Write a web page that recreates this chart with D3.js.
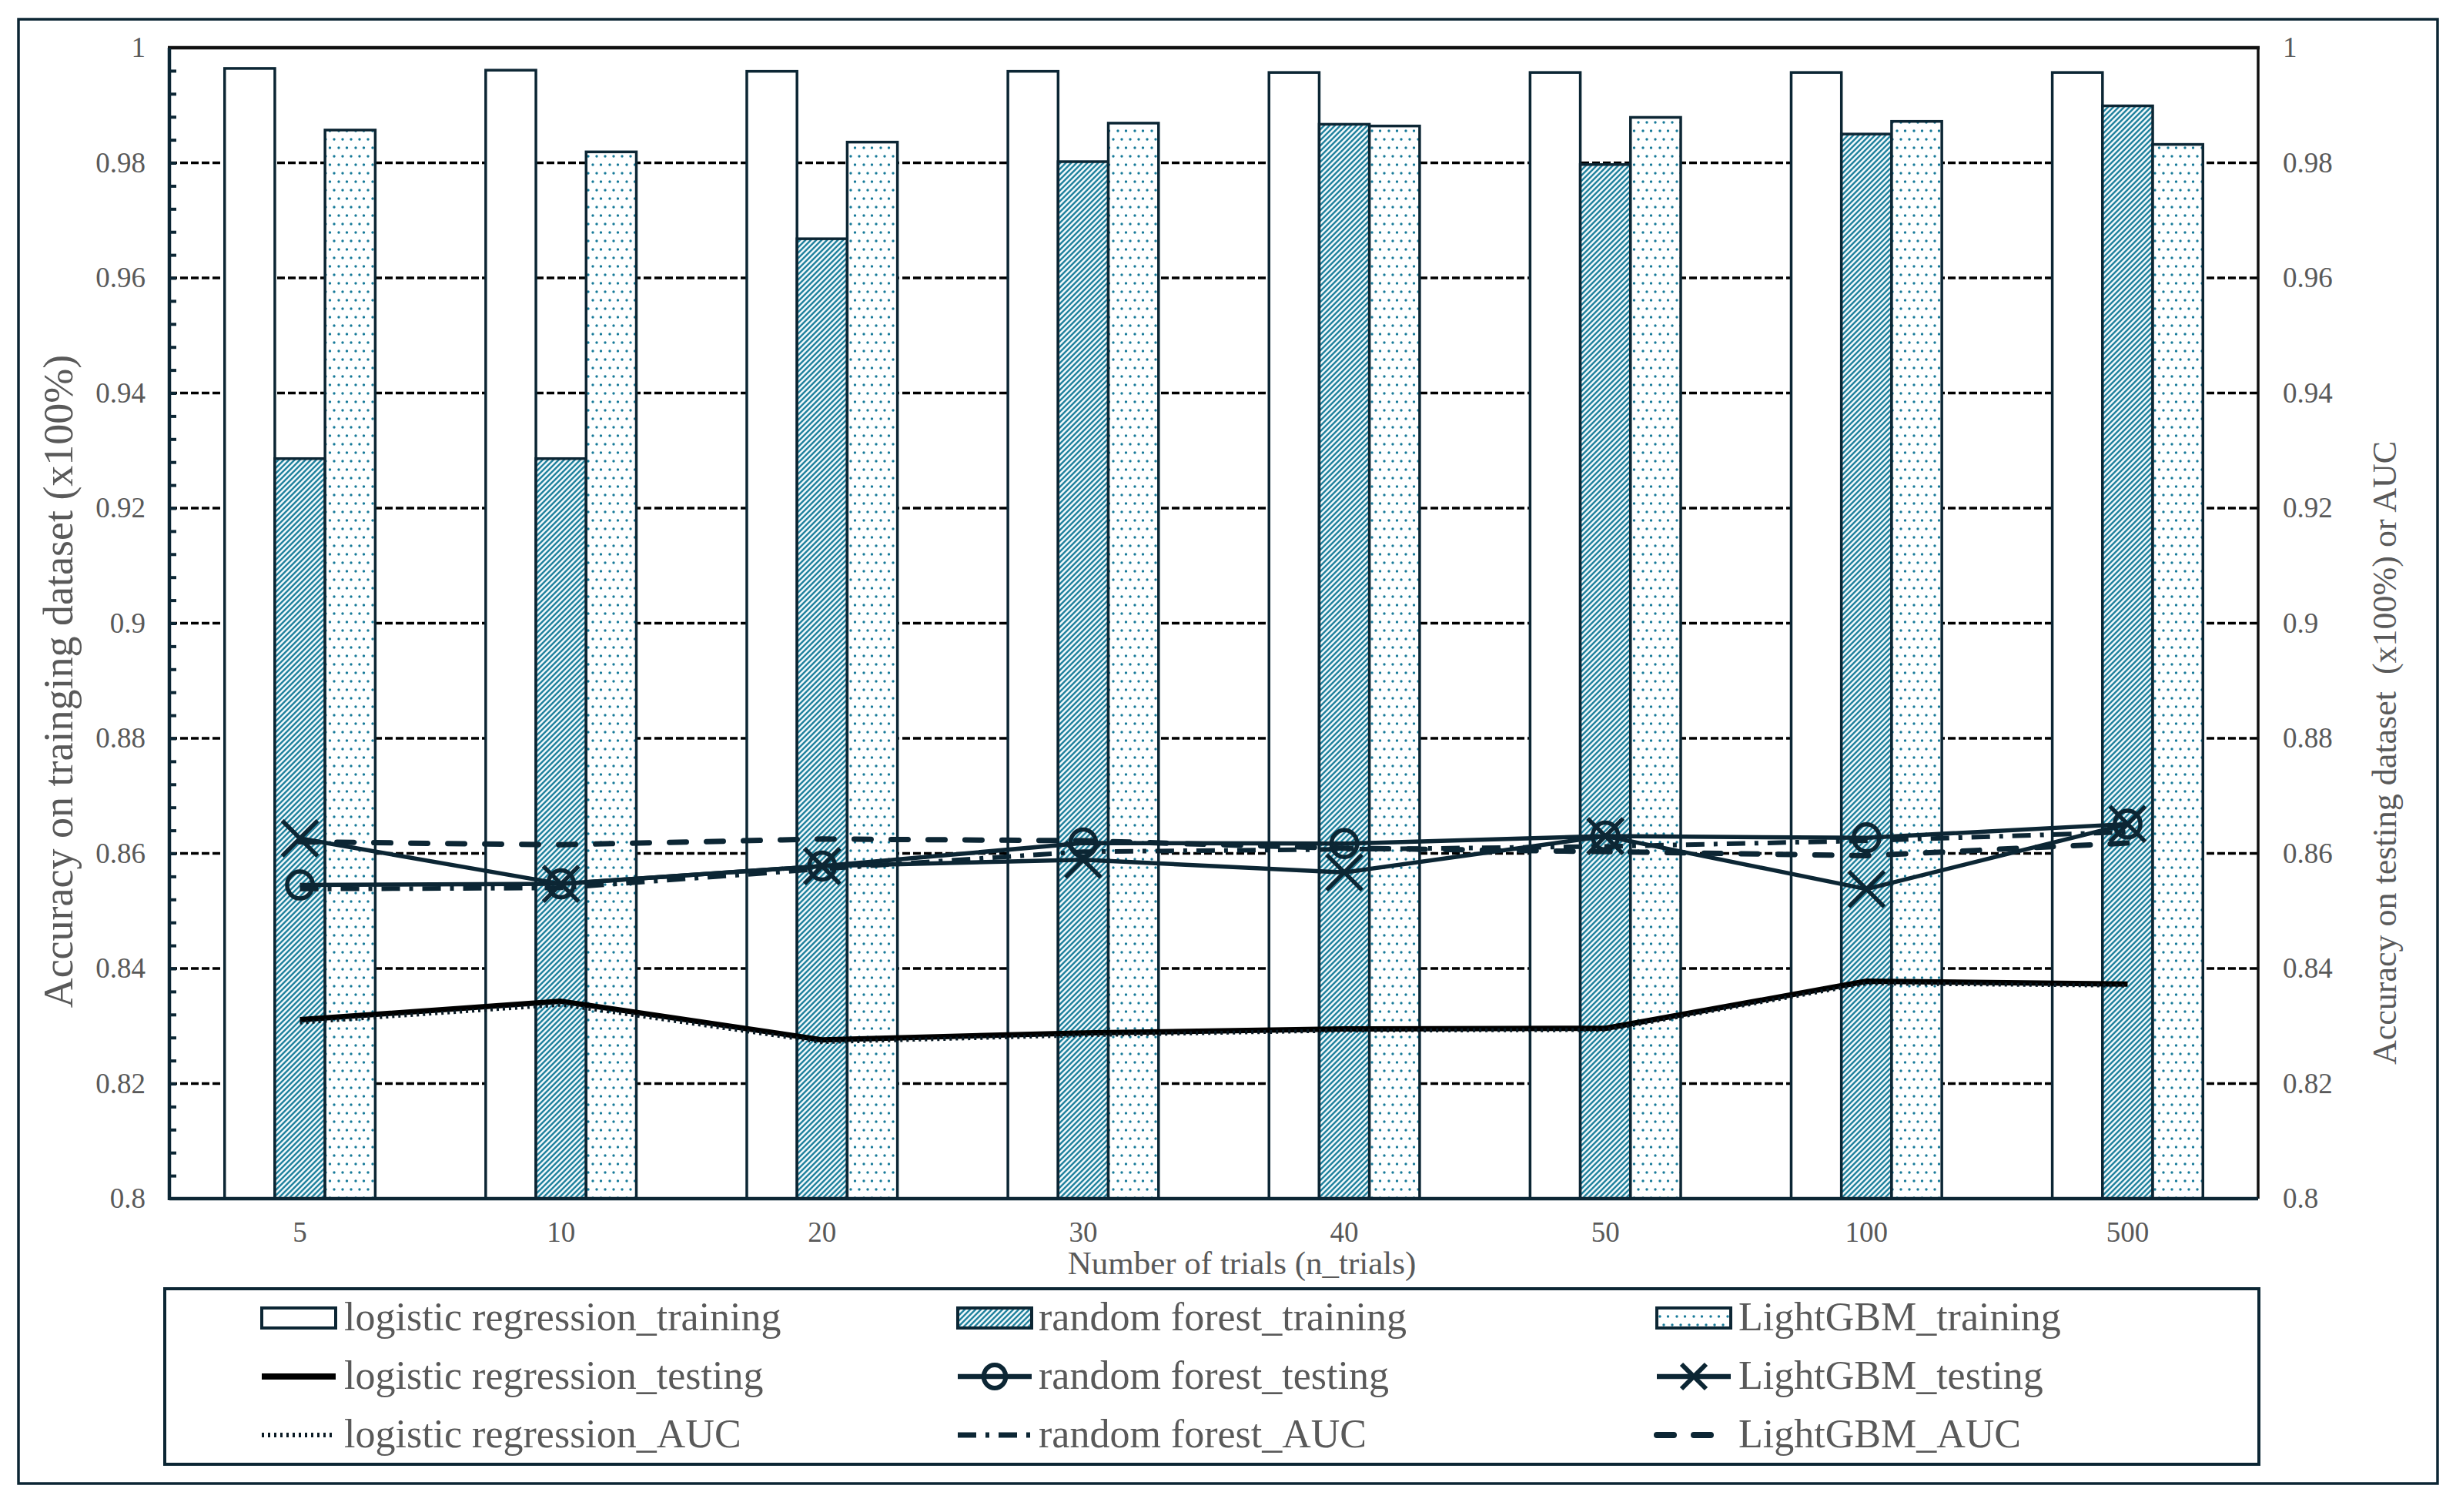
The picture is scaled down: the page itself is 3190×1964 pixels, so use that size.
<!DOCTYPE html>
<html>
<head>
<meta charset="utf-8">
<script src="https://cdn.jsdelivr.net/npm/d3@7"></script>
<style>
  body { margin: 0; background: #fff; }
  text { font-family: "Liberation Serif", "Times New Roman", serif; fill: #595959; }
</style>
</head>
<body>
<div id="chart"></div>
<script>
// bars (left axis) and lines (right axis)
var categories = ["5", "10", "20", "30", "40", "50", "100", "500"];
var lrTraining = [0.9964, 0.9961, 0.9959, 0.9959, 0.9957, 0.9957, 0.9957, 0.9957];
var rfTraining = [0.9286, 0.9286, 0.9668, 0.9802, 0.9867, 0.9797, 0.9850, 0.9899];
var lgbmTraining = [0.9857, 0.9819, 0.9836, 0.9869, 0.9864, 0.9879, 0.9872, 0.9832];
var lrTesting = [0.8311, 0.8343, 0.8276, 0.8288, 0.8295, 0.8296, 0.8378, 0.8373];
var lrAUC = [0.8306, 0.8337, 0.8272, 0.8284, 0.8292, 0.8293, 0.8374, 0.8370];
var rfTesting = [0.8545, 0.8547, 0.8578, 0.8618, 0.8617, 0.8630, 0.8627, 0.8651];
var rfAUC = [0.8538, 0.8540, 0.8573, 0.8603, 0.8607, 0.8612, 0.8622, 0.8637];
var lgbmTesting = [0.8626, 0.8547, 0.8578, 0.8589, 0.8567, 0.8630, 0.8538, 0.8651];
var lgbmAUC = [0.8620, 0.8615, 0.8625, 0.8622, 0.8609, 0.8603, 0.8596, 0.8618];
var yTicks = [0.8, 0.82, 0.84, 0.86, 0.88, 0.9, 0.92, 0.94, 0.96, 0.98, 1];
var barNames = ["logistic regression_training", "random forest_training", "LightGBM_training"];
var lineNames = ["logistic regression_testing", "random forest_testing", "LightGBM_testing",
                 "logistic regression_AUC", "random forest_AUC", "LightGBM_AUC"];

var W = 3190, H = 1964;
var NAVY = "#0c2634";
var TEAL = "#23839f";
var LEFT = 220, RIGHT = 2933, TOP = 62, BOTTOM = 1557;

var svg = d3.select("#chart").append("svg")
  .attr("width", W).attr("height", H);

var defs = svg.append("defs");

var hatch = defs.append("pattern")
  .attr("id", "hatch")
  .attr("patternUnits", "userSpaceOnUse")
  .attr("width", 7).attr("height", 7);
hatch.append("rect").attr("width", 7).attr("height", 7).attr("fill", "#f4fafc");
hatch.append("path")
  .attr("d", "M-1,8 L8,-1 M-4,4 L4,-4 M3,11 L11,3")
  .attr("stroke", TEAL).attr("stroke-width", 2.5);

var dots = defs.append("pattern")
  .attr("id", "dots")
  .attr("patternUnits", "userSpaceOnUse")
  .attr("width", 22).attr("height", 22);
dots.append("rect").attr("width", 22).attr("height", 22).attr("fill", "#fff");
[[5, 5], [16, 5], [10.5, 16], [0, 16], [22, 16]].forEach(function(p) {
  dots.append("circle").attr("cx", p[0]).attr("cy", p[1]).attr("r", 1.7).attr("fill", "#177a99");
});

var barFills = ["#fff", "url(#hatch)", "url(#dots)"];

// outer frame
svg.append("rect")
  .attr("x", 24).attr("y", 25).attr("width", 3142).attr("height", 1902)
  .attr("fill", "#fff").attr("stroke", NAVY).attr("stroke-width", 3.5);

var x0 = d3.scaleBand().domain(categories).range([LEFT, RIGHT]).padding(0);
var x1 = d3.scaleBand().domain(barNames).range([0, x0.bandwidth()]).paddingInner(0).paddingOuter(1.1);
var y = d3.scaleLinear().domain([0.8, 1]).range([BOTTOM, TOP]);
var xc = function(c) { return x0(c) + x0.bandwidth() / 2; };

// grid
svg.append("g").selectAll("line")
  .data(yTicks.filter(function(t) { return t > 0.8 && t < 1; }))
  .enter().append("line")
  .attr("x1", LEFT).attr("x2", RIGHT)
  .attr("y1", function(d) { return y(d); }).attr("y2", function(d) { return y(d); })
  .attr("stroke", "#000").attr("stroke-width", 3.5).attr("stroke-dasharray", "10 4");

// bars
var barData = [lrTraining, rfTraining, lgbmTraining];
var bars = svg.append("g");
categories.forEach(function(c, i) {
  barNames.forEach(function(name, k) {
    bars.append("rect")
      .attr("x", x0(c) + x1(name))
      .attr("y", y(barData[k][i]))
      .attr("width", x1.bandwidth())
      .attr("height", BOTTOM - y(barData[k][i]))
      .attr("fill", barFills[k])
      .attr("stroke", NAVY).attr("stroke-width", 3.5);
  });
});

// frame of plot
svg.append("line").attr("x1", LEFT - 2).attr("x2", RIGHT + 2).attr("y1", TOP).attr("y2", TOP)
  .attr("stroke", "#111").attr("stroke-width", 4.5);
svg.append("line").attr("x1", RIGHT).attr("x2", RIGHT).attr("y1", TOP).attr("y2", BOTTOM)
  .attr("stroke", "#111").attr("stroke-width", 3.5);
svg.append("line").attr("x1", LEFT).attr("x2", LEFT).attr("y1", TOP).attr("y2", BOTTOM + 2)
  .attr("stroke", NAVY).attr("stroke-width", 4.5);
svg.append("line").attr("x1", LEFT).attr("x2", RIGHT).attr("y1", BOTTOM).attr("y2", BOTTOM)
  .attr("stroke", NAVY).attr("stroke-width", 4.5);

// minor ticks on the left axis, inward
var minor = svg.append("g").attr("transform", "translate(" + LEFT + ",0)")
  .call(d3.axisRight(y).tickValues(d3.range(0.804, 0.9999, 0.004)).tickSize(9).tickFormat(""));
minor.select(".domain").remove();
minor.selectAll("line").attr("stroke", NAVY).attr("stroke-width", 4);

// axes labels
var yLeft = svg.append("g").attr("transform", "translate(" + LEFT + ",0)")
  .call(d3.axisLeft(y).tickValues(yTicks).tickSize(0).tickPadding(31).tickFormat(d3.format("")));
var yRight = svg.append("g").attr("transform", "translate(" + RIGHT + ",0)")
  .call(d3.axisRight(y).tickValues(yTicks).tickSize(0).tickPadding(32).tickFormat(d3.format("")));
var xAxis = svg.append("g").attr("transform", "translate(0," + BOTTOM + ")")
  .call(d3.axisBottom(x0).tickSize(0).tickPadding(30));
[yLeft, yRight, xAxis].forEach(function(a) {
  a.select(".domain").remove();
  a.selectAll("text").attr("font-size", 37).attr("font-family", "Liberation Serif").attr("fill", "#595959");
});

svg.append("text")
  .attr("x", 1613).attr("y", 1655)
  .attr("text-anchor", "middle").attr("font-size", 43)
  .text("Number of trials (n_trials)");
svg.append("text")
  .attr("transform", "translate(94,885) rotate(-90)")
  .attr("text-anchor", "middle").attr("font-size", 54)
  .text("Accuracy on trainging dataset (x100%)");
svg.append("text")
  .attr("transform", "translate(3112,978) rotate(-90)")
  .attr("text-anchor", "middle").attr("font-size", 44)
  .text("Accuracy on testing dataset \u00a0(x100%) or AUC");

// lines
var lineStyles = [
  { data: lrTesting, color: "#000", width: 7, dash: null },
  { data: lrAUC, color: "#0a1a24", width: 5, dash: "3 5" },
  { data: rfTesting, color: NAVY, width: 5.5, dash: null, marker: "circle" },
  { data: rfAUC, color: NAVY, width: 6, dash: "24 12 5 12" },
  { data: lgbmTesting, color: NAVY, width: 5.5, dash: null, marker: "x" },
  { data: lgbmAUC, color: NAVY, width: 7, dash: "22 26", cap: "round" }
];
var line = d3.line()
  .x(function(d, i) { return xc(categories[i]); })
  .y(function(d) { return y(d); });

var drawMarker = function(g, type, cx, cy, r, color, width) {
  if (type === "circle") {
    g.append("ellipse").attr("cx", cx).attr("cy", cy).attr("rx", r * 0.95).attr("ry", r)
      .attr("fill", "none").attr("stroke", color).attr("stroke-width", width);
  } else if (type === "x") {
    g.append("path")
      .attr("d", "M" + (cx - r) + "," + (cy - r) + "L" + (cx + r) + "," + (cy + r) +
                 "M" + (cx - r) + "," + (cy + r) + "L" + (cx + r) + "," + (cy - r))
      .attr("fill", "none").attr("stroke", color).attr("stroke-width", width);
  }
};

var lines = svg.append("g");
lineStyles.forEach(function(s) {
  lines.append("path")
    .attr("d", line(s.data))
    .attr("fill", "none")
    .attr("stroke", s.color)
    .attr("stroke-width", s.width)
    .attr("stroke-linecap", s.cap || "butt")
    .attr("stroke-linejoin", "round")
    .attr("stroke-dasharray", s.dash);
  if (s.marker) {
    s.data.forEach(function(v, i) {
      drawMarker(lines, s.marker, xc(categories[i]), y(v), s.marker === "x" ? 23 : 17.5, s.color, 5.5);
    });
  }
});

// legend
var legend = svg.append("g");
legend.append("rect")
  .attr("x", 214).attr("y", 1674).attr("width", 2720).attr("height", 228)
  .attr("fill", "#fff").attr("stroke", NAVY).attr("stroke-width", 4);

var colX = [340, 1244, 2152];
var textX = [447, 1349, 2258];
var rowY = [1712, 1788, 1864];
var SW = 96;

barNames.forEach(function(name, k) {
  legend.append("rect")
    .attr("x", colX[k]).attr("y", rowY[0] - 13).attr("width", SW).attr("height", 26)
    .attr("fill", barFills[k]).attr("stroke", NAVY).attr("stroke-width", 4);
  legend.append("text").attr("x", textX[k]).attr("y", rowY[0] + 16)
    .attr("font-size", 52).text(name);
});

lineNames.forEach(function(name, j) {
  var s = lineStyles[j < 3 ? j * 2 : (j - 3) * 2 + 1];
  var col = j % 3, row = 1 + Math.floor(j / 3);
  var cy = rowY[row];
  legend.append("line")
    .attr("x1", colX[col]).attr("x2", colX[col] + SW)
    .attr("y1", cy).attr("y2", cy)
    .attr("stroke", s.color).attr("stroke-width", s.width + 1)
    .attr("stroke-linecap", s.cap || "butt")
    .attr("stroke-dasharray", s.dash);
  if (s.marker) {
    drawMarker(legend, s.marker, colX[col] + SW / 2, cy, s.marker === "x" ? 16 : 15, s.color, 6);
  }
  legend.append("text").attr("x", textX[col]).attr("y", cy + 16)
    .attr("font-size", 52).text(name);
});
</script>
</body>
</html>
